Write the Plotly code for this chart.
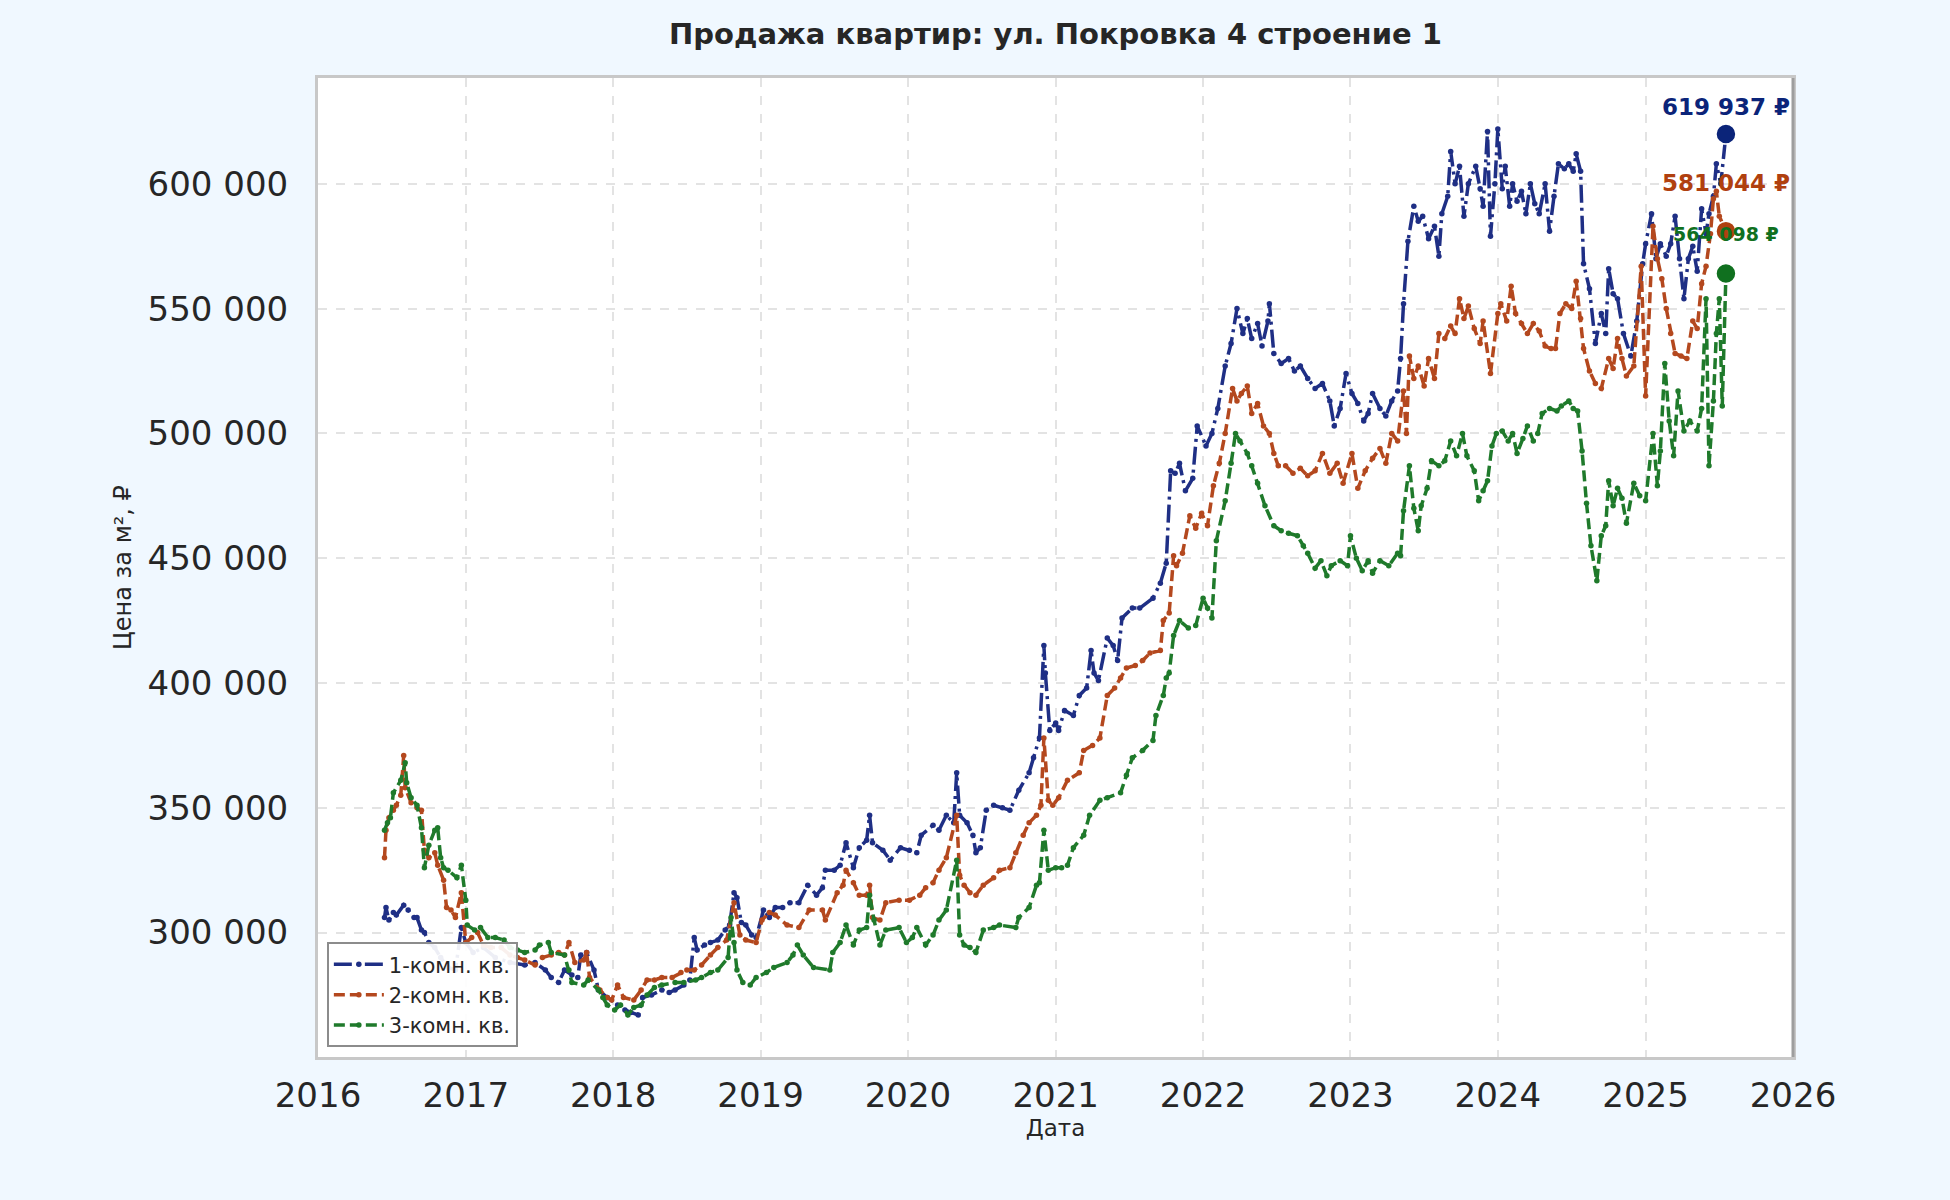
import plotly.graph_objects as go
import pandas as pd

# --- data (time as decimal year, price in thousand rub per m2) ---
t_1k = [2016.45, 2016.46, 2016.48, 2016.51, 2016.53, 2016.58, 2016.61, 2016.65, 2016.67, 2016.70,
        2016.72, 2016.75, 2016.79, 2016.83, 2016.88, 2016.93, 2016.97, 2017.00, 2017.05, 2017.12,
        2017.20, 2017.30, 2017.40, 2017.47, 2017.54, 2017.58, 2017.63, 2017.67, 2017.72, 2017.76,
        2017.78, 2017.82, 2017.87, 2017.90, 2017.96, 2018.03, 2018.08, 2018.12, 2018.17, 2018.20,
        2018.26, 2018.33, 2018.38, 2018.42, 2018.48, 2018.52, 2018.55, 2018.57, 2018.62, 2018.66,
        2018.71, 2018.76, 2018.79, 2018.82, 2018.84, 2018.87, 2018.90, 2018.94, 2018.97, 2019.02,
        2019.06, 2019.10, 2019.15, 2019.20, 2019.26, 2019.32, 2019.38, 2019.42, 2019.44, 2019.50,
        2019.54, 2019.58, 2019.63, 2019.67, 2019.72, 2019.74, 2019.76, 2019.83, 2019.88, 2019.95,
        2020.01, 2020.06, 2020.09, 2020.17, 2020.21, 2020.26, 2020.31, 2020.33, 2020.35, 2020.40,
        2020.44, 2020.46, 2020.49, 2020.53, 2020.58, 2020.64, 2020.69, 2020.75, 2020.82, 2020.85,
        2020.89, 2020.92, 2020.93, 2020.96, 2021.00, 2021.02, 2021.06, 2021.12, 2021.16, 2021.21,
        2021.24, 2021.26, 2021.29, 2021.35, 2021.39, 2021.42, 2021.45, 2021.52, 2021.57, 2021.66,
        2021.71, 2021.75, 2021.78, 2021.81, 2021.84, 2021.88, 2021.93, 2021.96, 2022.02, 2022.06,
        2022.10, 2022.15, 2022.19, 2022.23, 2022.27, 2022.30, 2022.33, 2022.37, 2022.40, 2022.44,
        2022.45, 2022.48, 2022.53, 2022.58, 2022.62, 2022.66, 2022.71, 2022.76, 2022.81, 2022.86,
        2022.89, 2022.93, 2022.97, 2023.01, 2023.05, 2023.09, 2023.12, 2023.15, 2023.20, 2023.24,
        2023.28, 2023.32, 2023.34, 2023.36, 2023.39, 2023.43, 2023.46, 2023.49, 2023.53, 2023.57,
        2023.60, 2023.62, 2023.66, 2023.68, 2023.71, 2023.74, 2023.77, 2023.80, 2023.85, 2023.88,
        2023.90, 2023.93, 2023.95, 2023.98, 2024.00, 2024.03, 2024.05, 2024.08, 2024.10, 2024.13,
        2024.16, 2024.19, 2024.22, 2024.25, 2024.28, 2024.32, 2024.35, 2024.38, 2024.41, 2024.45,
        2024.48, 2024.51, 2024.53, 2024.56, 2024.58, 2024.62, 2024.66, 2024.70, 2024.73, 2024.75,
        2024.78, 2024.81, 2024.85, 2024.90, 2024.94, 2024.98, 2025.00, 2025.04, 2025.07, 2025.10,
        2025.14, 2025.17, 2025.20, 2025.23, 2025.26, 2025.29, 2025.32, 2025.35, 2025.38, 2025.41,
        2025.43, 2025.46, 2025.48, 2025.51, 2025.545]
p_1k = [306, 310, 305, 308, 307, 311, 309, 306, 306, 301,
        300, 296, 294, 290, 286, 285, 302, 296, 292, 294,
        290, 288, 287, 288, 285, 282, 280, 285, 283, 282,
        291, 292, 285, 277, 274, 271, 269, 268, 267, 274,
        275, 277, 276, 277, 279, 281, 298, 293, 295, 296,
        297, 301, 303, 316, 314, 304, 303, 299, 298, 309,
        306, 310, 310, 312, 312, 319, 315, 318, 325, 325,
        327, 336, 326, 334, 337, 347, 336, 333, 329, 334,
        333, 332, 339, 343, 341, 347, 344, 364, 347, 344,
        339, 332, 334, 349, 351, 350, 349, 357, 364, 370,
        378, 415, 404, 381, 384, 381, 389, 387, 395, 398,
        413, 404, 401, 418, 415, 409, 426, 430, 430, 434,
        440, 448, 485, 484, 488, 477, 482, 503, 495, 500,
        510, 527, 536, 550, 540, 546, 538, 544, 535, 545,
        552, 532, 528, 530, 525, 527, 522, 518, 520, 513,
        503, 510, 524, 516, 512, 505, 508, 516, 510, 507,
        513, 517, 530, 552, 577, 591, 585, 587, 578, 583,
        571, 588, 595, 613, 600, 607, 587, 600, 607, 598,
        591, 621, 579, 600, 622, 598, 607, 591, 600, 593,
        597, 588, 600, 592, 588, 600, 581, 595, 608, 606,
        608, 605, 612, 605, 568, 558, 536, 548, 540, 566,
        556, 554, 540, 531, 545, 568, 576, 588, 570, 576,
        571, 576, 587, 570, 554, 570, 575, 565, 590, 580,
        588, 595, 608, 600, 619.937]

t_2k = [2016.45, 2016.46, 2016.48, 2016.51, 2016.53, 2016.56, 2016.58, 2016.59, 2016.63, 2016.67,
        2016.70, 2016.72, 2016.75, 2016.79, 2016.81, 2016.85, 2016.87, 2016.90, 2016.93, 2016.97,
        2017.00, 2017.04, 2017.08, 2017.12, 2017.17, 2017.24, 2017.30, 2017.35, 2017.40, 2017.47,
        2017.52, 2017.58, 2017.63, 2017.67, 2017.70, 2017.74, 2017.80, 2017.82, 2017.84, 2017.91,
        2017.96, 2017.99, 2018.03, 2018.07, 2018.14, 2018.19, 2018.23, 2018.28, 2018.33, 2018.40,
        2018.46, 2018.50, 2018.55, 2018.60, 2018.66, 2018.71, 2018.77, 2018.82, 2018.86, 2018.90,
        2018.97, 2019.01, 2019.06, 2019.10, 2019.18, 2019.26, 2019.33, 2019.42, 2019.44, 2019.52,
        2019.56, 2019.58, 2019.63, 2019.67, 2019.72, 2019.74, 2019.76, 2019.81, 2019.85, 2019.94,
        2020.01, 2020.08, 2020.12, 2020.17, 2020.21, 2020.26, 2020.33, 2020.35, 2020.38, 2020.42,
        2020.46, 2020.51, 2020.58, 2020.62, 2020.69, 2020.73, 2020.78, 2020.82, 2020.87, 2020.90,
        2020.92, 2020.95, 2020.98, 2021.02, 2021.08, 2021.16, 2021.19, 2021.25, 2021.30, 2021.35,
        2021.40, 2021.44, 2021.48, 2021.54, 2021.59, 2021.64, 2021.71, 2021.73, 2021.77, 2021.80,
        2021.82, 2021.86, 2021.91, 2021.95, 2021.99, 2022.03, 2022.07, 2022.11, 2022.15, 2022.20,
        2022.23, 2022.26, 2022.30, 2022.33, 2022.37, 2022.41, 2022.45, 2022.48, 2022.51, 2022.56,
        2022.61, 2022.66, 2022.71, 2022.76, 2022.81, 2022.86, 2022.91, 2022.95, 2023.01, 2023.05,
        2023.10, 2023.15, 2023.20, 2023.24, 2023.28, 2023.32, 2023.36, 2023.38, 2023.40, 2023.43,
        2023.46, 2023.50, 2023.53, 2023.57, 2023.60, 2023.64, 2023.68, 2023.71, 2023.74, 2023.77,
        2023.80, 2023.84, 2023.88, 2023.90, 2023.95, 2024.00, 2024.02, 2024.06, 2024.09, 2024.12,
        2024.16, 2024.20, 2024.24, 2024.28, 2024.32, 2024.36, 2024.39, 2024.42, 2024.46, 2024.50,
        2024.53, 2024.56, 2024.58, 2024.62, 2024.66, 2024.70, 2024.75, 2024.78, 2024.81, 2024.84,
        2024.87, 2024.92, 2024.97, 2025.00, 2025.05, 2025.08, 2025.11, 2025.14, 2025.17, 2025.20,
        2025.24, 2025.28, 2025.32, 2025.35, 2025.38, 2025.41, 2025.44, 2025.46, 2025.48, 2025.50,
        2025.545]
p_2k = [330, 341, 346, 349, 351, 355, 371, 358, 352, 350,
        349, 333, 330, 332, 327, 321, 310, 309, 306, 316,
        296, 298, 300, 295, 294, 294, 291, 290, 289, 287,
        290, 291, 292, 291, 296, 288, 289, 292, 282, 277,
        274, 273, 279, 274, 273, 277, 281, 281, 282, 282,
        284, 285, 285, 287, 291, 294, 297, 312, 299, 297,
        296, 305, 308, 307, 303, 302, 309, 309, 305, 316,
        319, 325, 320, 315, 315, 319, 306, 305, 312, 313,
        313, 315, 318, 320, 325, 330, 347, 323, 319, 316,
        315, 319, 322, 325, 326, 332, 339, 344, 347, 351,
        378, 353, 351, 354, 361, 364, 373, 375, 378, 395,
        398, 402, 406, 407, 409, 412, 413, 425, 428, 451,
        447, 452, 467, 462, 468, 463, 479, 488, 500, 518,
        513, 516, 519, 508, 512, 503, 500, 492, 487, 487,
        484, 486, 483, 485, 492, 484, 488, 480, 492, 478,
        485, 490, 494, 488, 500, 497, 517, 500, 531, 522,
        527, 519, 530, 522, 540, 538, 543, 540, 554, 546,
        551, 542, 536, 545, 524, 548, 552, 545, 559, 548,
        544, 540, 544, 541, 535, 534, 534, 548, 552, 550,
        561, 546, 534, 525, 520, 518, 530, 526, 538, 530,
        523, 527, 567, 515, 583, 570, 562, 550, 540, 532,
        531, 530, 545, 542, 560, 567, 580, 594, 597, 587,
        581.044]

t_3k = [2016.45, 2016.47, 2016.49, 2016.51, 2016.56, 2016.59, 2016.60, 2016.63, 2016.67, 2016.70,
        2016.72, 2016.75, 2016.79, 2016.81, 2016.83, 2016.85, 2016.88, 2016.94, 2016.97, 2017.00,
        2017.01, 2017.06, 2017.10, 2017.15, 2017.20, 2017.26, 2017.30, 2017.35, 2017.40, 2017.47,
        2017.50, 2017.56, 2017.58, 2017.67, 2017.70, 2017.72, 2017.80, 2017.83, 2017.90, 2017.93,
        2017.96, 2018.01, 2018.05, 2018.10, 2018.14, 2018.19, 2018.23, 2018.28, 2018.33, 2018.42,
        2018.48, 2018.56, 2018.60, 2018.66, 2018.71, 2018.78, 2018.80, 2018.82, 2018.84, 2018.88,
        2018.93, 2018.97, 2019.04, 2019.09, 2019.18, 2019.22, 2019.25, 2019.29, 2019.36, 2019.47,
        2019.49, 2019.54, 2019.58, 2019.63, 2019.67, 2019.72, 2019.74, 2019.77, 2019.81, 2019.85,
        2019.94, 2019.99, 2020.03, 2020.06, 2020.12, 2020.17, 2020.21, 2020.26, 2020.33, 2020.35,
        2020.38, 2020.42, 2020.46, 2020.51, 2020.58, 2020.62, 2020.73, 2020.75, 2020.82, 2020.87,
        2020.89, 2020.92, 2020.95, 2021.00, 2021.04, 2021.08, 2021.12, 2021.19, 2021.23, 2021.30,
        2021.35, 2021.44, 2021.48, 2021.52, 2021.59, 2021.66, 2021.68, 2021.73, 2021.75, 2021.77,
        2021.80, 2021.84, 2021.90, 2021.95, 2022.00, 2022.03, 2022.06, 2022.09, 2022.15, 2022.19,
        2022.22, 2022.25, 2022.30, 2022.33, 2022.37, 2022.42, 2022.48, 2022.53, 2022.58, 2022.64,
        2022.68, 2022.71, 2022.76, 2022.80, 2022.84, 2022.87, 2022.93, 2022.98, 2023.00, 2023.04,
        2023.08, 2023.12, 2023.15, 2023.20, 2023.26, 2023.32, 2023.34, 2023.36, 2023.40, 2023.43,
        2023.46, 2023.48, 2023.52, 2023.55, 2023.60, 2023.64, 2023.68, 2023.72, 2023.76, 2023.79,
        2023.84, 2023.87, 2023.90, 2023.93, 2023.96, 2023.99, 2024.03, 2024.07, 2024.10, 2024.13,
        2024.17, 2024.20, 2024.24, 2024.27, 2024.30, 2024.35, 2024.40, 2024.43, 2024.48, 2024.51,
        2024.54, 2024.57, 2024.60, 2024.63, 2024.67, 2024.70, 2024.73, 2024.75, 2024.78, 2024.81,
        2024.84, 2024.87, 2024.92, 2024.96, 2025.00, 2025.05, 2025.08, 2025.10, 2025.13, 2025.16,
        2025.19, 2025.22, 2025.26, 2025.30, 2025.35, 2025.38, 2025.41, 2025.43, 2025.46, 2025.48,
        2025.50, 2025.52, 2025.545]
p_3k = [341, 344, 346, 356, 361, 368, 360, 354, 351, 342,
        326, 335, 341, 342, 330, 326, 325, 322, 327, 313,
        303, 301, 302, 298, 298, 297, 294, 293, 292, 293,
        295, 296, 292, 291, 285, 280, 279, 281, 277, 274,
        271, 269, 271, 267, 270, 271, 275, 278, 279, 280,
        280, 281, 282, 284, 285, 290, 306, 296, 285, 280,
        279, 282, 284, 286, 288, 291, 295, 291, 286, 285,
        292, 296, 303, 295, 301, 302, 315, 305, 295, 301,
        302, 296, 298, 302, 295, 299, 305, 309, 329, 299,
        295, 294, 292, 301, 302, 303, 302, 306, 310, 319,
        320, 341, 325, 326, 326, 327, 334, 339, 347, 353,
        354, 356, 363, 370, 373, 377, 387, 395, 402, 404,
        419, 425, 422, 423, 434, 430, 426, 457, 473, 488,
        500, 497, 492, 487, 480, 471, 463, 461, 460, 459,
        455, 452, 446, 449, 443, 447, 449, 447, 459, 450,
        445, 449, 444, 449, 447, 452, 451, 469, 487, 470,
        461, 471, 478, 489, 487, 489, 497, 491, 500, 491,
        485, 473, 477, 481, 495, 500, 501, 497, 500, 492,
        498, 503, 497, 500, 508, 510, 509, 511, 513, 510,
        509, 493, 472, 455, 441, 459, 463, 481, 471, 478,
        474, 464, 480, 475, 473, 500, 479, 493, 528, 505,
        491, 517, 501, 505, 501, 510, 554, 487, 513, 540,
        554, 511, 564.098]

series_names = ["1-комн. кв.", "2-комн. кв.", "3-комн. кв."]
line_colors = ["#1f2f85", "#b4481e", "#1f7a2b"]
label_colors = ["#0b2479", "#b0400f", "#10701f"]
line_dashes = ["18px,5px,3px,5px", "11px,5px", "11px,5px"]
label_shift = [27, 48, 39]
label_size = [23, 23, 19]


def to_date(t):
    y = int(t)
    start = pd.Timestamp(year=y, month=1, day=1)
    end = pd.Timestamp(year=y + 1, month=1, day=1)
    return start + (end - start) * (t - y)


fig = go.Figure()
for t, p, name, col, lab_col, dash, shift, size in zip(
        [t_1k, t_2k, t_3k], [p_1k, p_2k, p_3k], series_names,
        line_colors, label_colors, line_dashes, label_shift, label_size):
    x = [to_date(v) for v in t]
    y = [v * 1000 for v in p]
    fig.add_trace(go.Scatter(
        x=x, y=y, mode="lines+markers", name=name,
        line=dict(color=col, width=3.5, dash=dash),
        marker=dict(color=col, size=5.5),
    ))
    # last point highlighted
    fig.add_trace(go.Scatter(
        x=[x[-1]], y=[y[-1]], mode="markers", showlegend=False,
        marker=dict(color=lab_col, size=20, line=dict(color="white", width=1.5)),
        hoverinfo="skip",
    ))
    fig.add_annotation(
        x=x[-1], y=y[-1], yshift=shift, showarrow=False,
        text="<b>" + f"{y[-1]:,.0f}".replace(",", " ") + " ₽</b>",
        font=dict(size=size, color=lab_col, family="DejaVu Sans"),
    )

# darker right spine
fig.add_shape(type="line", xref="paper", yref="paper", x0=1, x1=1, y0=0, y1=1,
              line=dict(color="#9e9e9e", width=3))

fig.update_layout(
    width=1950, height=1200,
    paper_bgcolor="#f0f8ff", plot_bgcolor="white",
    font=dict(family="DejaVu Sans", color="#262626"),
    separators=". ",
    margin=dict(l=318, r=157, t=78, b=143),
    title=dict(text="<b>Продажа квартир: ул. Покровка 4 строение 1</b>",
               x=0.5, xref="paper", xanchor="center",
               y=1 - 34 / 1200, yanchor="middle",
               font=dict(size=29, color="#262626")),
    legend=dict(x=0.006, y=0.01, xanchor="left", yanchor="bottom",
                bgcolor="rgba(255,255,255,0.92)", bordercolor="#8c8c8c", borderwidth=2,
                font=dict(size=21, color="#262626"), itemwidth=50,
                tracegroupgap=2),
    showlegend=True,
)
fig.update_xaxes(
    type="date", range=["2016-01-01", "2026-01-01"],
    dtick="M12", tick0="2016-01-01", tickformat="%Y",
    tickfont=dict(size=34, color="#262626"),
    showgrid=True, gridcolor="#e3e3e3", gridwidth=2, griddash="dash",
    showline=True, linecolor="#c8c8c8", linewidth=3, mirror=True,
    ticks="outside", ticklen=6, tickcolor="rgba(0,0,0,0)",
    zeroline=False,
    title=dict(text="Дата", font=dict(size=23, color="#262626"), standoff=6),
)
fig.update_yaxes(
    range=[250150, 642400], tick0=0, dtick=50000, tickformat=",.0f",
    tickfont=dict(size=34, color="#262626"),
    showgrid=True, gridcolor="#e3e3e3", gridwidth=2, griddash="dash",
    showline=True, linecolor="#c8c8c8", linewidth=3, mirror=True,
    ticks="outside", ticklen=20, tickcolor="rgba(0,0,0,0)",
    zeroline=False,
    title=dict(text="Цена за м², ₽", font=dict(size=24, color="#262626"), standoff=10),
)

fig.write_html(
    "out.html",
    config={"displayModeBar": False},
    post_script="document.body.style.margin='0';document.body.style.background='#f0f8ff';",
)
